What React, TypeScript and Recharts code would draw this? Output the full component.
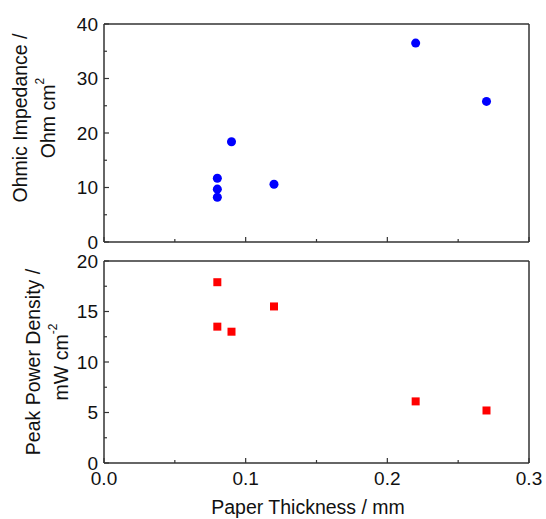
import React from 'react';
import { ScatterChart, Scatter, XAxis, YAxis, ZAxis, ReferenceLine } from 'recharts';

const impThickness = [0.08, 0.08, 0.08, 0.09, 0.12, 0.22, 0.27];
const impedance = [11.7, 9.7, 8.2, 18.4, 10.6, 36.5, 25.8];

const powThickness = [0.08, 0.08, 0.09, 0.12, 0.22, 0.27];
const powerDensity = [17.9, 13.5, 13.0, 15.5, 6.1, 5.2];

const xTicks = [0, 0.05, 0.1, 0.15, 0.2, 0.25, 0.3];
const impTicks = [0, 5, 10, 15, 20, 25, 30, 35, 40];
const powTicks = [0, 2.5, 5, 7.5, 10, 12.5, 15, 17.5, 20];

const impData = impThickness.map((x, i) => ({ x, y: impedance[i] }));
const powData = powThickness.map((x, i) => ({ x, y: powerDensity[i] }));

const FONT = '"Liberation Sans", Arial, sans-serif';
const AXIS = '#333';
const MARGIN = 6;
const TICK_FS = 19;
const TITLE_FS = 19.5;

const YTick = (props: any) => {
  const { x, y, payload, majorStep } = props;
  const v = payload.value;
  const major = Math.abs(v / majorStep - Math.round(v / majorStep)) < 1e-6;
  const ax = x + MARGIN;
  return (
    <g>
      <line x1={ax} x2={ax + (major ? 5 : 3)} y1={y} y2={y} stroke={AXIS} strokeWidth={1.2} />
      {major && (
        <text x={x} y={y} textAnchor="end" dominantBaseline="central" fontSize={TICK_FS} fontFamily={FONT} fill="#111">
          {v}
        </text>
      )}
    </g>
  );
};

const XTick = (props: any) => {
  const { x, y, payload, showLabel } = props;
  const v = payload.value;
  const major = Math.round(v * 100) % 10 === 0;
  const ay = y - MARGIN;
  return (
    <g>
      <line x1={x} x2={x} y1={ay} y2={ay - (major ? 5 : 3)} stroke={AXIS} strokeWidth={1.2} />
      {major && showLabel && (
        <text x={x} y={ay + 8} textAnchor="middle" dominantBaseline="hanging" fontSize={TICK_FS} fontFamily={FONT} fill="#111">
          {v.toFixed(1)}
        </text>
      )}
    </g>
  );
};

const YTitle = ({ line1, line2, sup, x1, x2, dy }: any) => (props: any) => {
  const vb = props.viewBox;
  const cy = vb.y + vb.height / 2 + dy;
  return (
    <g fontFamily={FONT} fontSize={TITLE_FS} fill="#111">
      <text x={x1} y={cy} textAnchor="middle" dominantBaseline="central" transform={`rotate(-90, ${x1}, ${cy})`}>
        {line1}
      </text>
      <text x={x2} y={cy} textAnchor="middle" dominantBaseline="central" transform={`rotate(-90, ${x2}, ${cy})`}>
        {line2}
        <tspan dy={-8} fontSize={12}>{sup}</tspan>
      </text>
    </g>
  );
};

export default function App() {
  return (
    <div style={{ position: 'absolute', left: 0, top: 0, width: 546, height: 519, background: '#fff' }}>
      <div style={{ position: 'absolute', left: 0, top: 250 }}>
        <ScatterChart width={546} height={269} margin={{ top: 11, right: 17, bottom: 0, left: 0 }}>
          <XAxis
            type="number"
            dataKey="x"
            domain={[0, 0.3]}
            ticks={xTicks}
            interval={0}
            height={56}
            tickSize={0}
            tickMargin={MARGIN}
            tickLine={false}
            tick={<XTick showLabel={true} />}
            stroke={AXIS}
            strokeWidth={1.5}
            label={{
              content: (p: any) => (
                <text x={308} y={p.viewBox.y + 51} textAnchor="middle" fontSize={TITLE_FS} fontFamily={FONT} fill="#111">
                  Paper Thickness / mm
                </text>
              ),
            }}
          />
          <YAxis
            type="number"
            dataKey="y"
            domain={[0, 20]}
            ticks={powTicks}
            interval={0}
            width={104}
            tickSize={0}
            tickMargin={MARGIN}
            tickLine={false}
            tick={<YTick majorStep={5} />}
            stroke={AXIS}
            strokeWidth={1.5}
            label={{ content: YTitle({ line1: 'Peak Power Density /', line2: 'mW cm', sup: '-2', x1: 33, x2: 61, dy: 0 }) }}
          />
          <ZAxis range={[81, 81]} />
          <ReferenceLine y={20} stroke={AXIS} strokeWidth={1.5} />
          <ReferenceLine x={0.3} stroke={AXIS} strokeWidth={1.5} />
          <Scatter data={powData} fill="#ff0000" shape="square" isAnimationActive={false} />
        </ScatterChart>
      </div>
      <div style={{ position: 'absolute', left: 0, top: 0 }}>
        <ScatterChart width={546} height={250} margin={{ top: 24, right: 17, bottom: 0, left: 0 }} style={{ overflow: 'visible' }}>
          <XAxis
            type="number"
            dataKey="x"
            domain={[0, 0.3]}
            ticks={xTicks}
            interval={0}
            height={8}
            tickSize={0}
            tickMargin={MARGIN}
            tickLine={false}
            tick={<XTick showLabel={false} />}
            stroke={AXIS}
            strokeWidth={1.5}
          />
          <YAxis
            type="number"
            dataKey="y"
            domain={[0, 40]}
            ticks={impTicks}
            interval={0}
            width={104}
            tickSize={0}
            tickMargin={MARGIN}
            tickLine={false}
            tick={<YTick majorStep={10} />}
            stroke={AXIS}
            strokeWidth={1.5}
            label={{ content: YTitle({ line1: 'Ohmic Impedance /', line2: 'Ohm cm', sup: '2', x1: 20, x2: 48, dy: -15 }) }}
          />
          <ZAxis range={[95, 95]} />
          <ReferenceLine y={40} stroke={AXIS} strokeWidth={1.5} />
          <ReferenceLine x={0.3} stroke={AXIS} strokeWidth={1.5} />
          <Scatter data={impData} fill="#0000ff" shape="circle" isAnimationActive={false} />
        </ScatterChart>
      </div>
    </div>
  );
}
